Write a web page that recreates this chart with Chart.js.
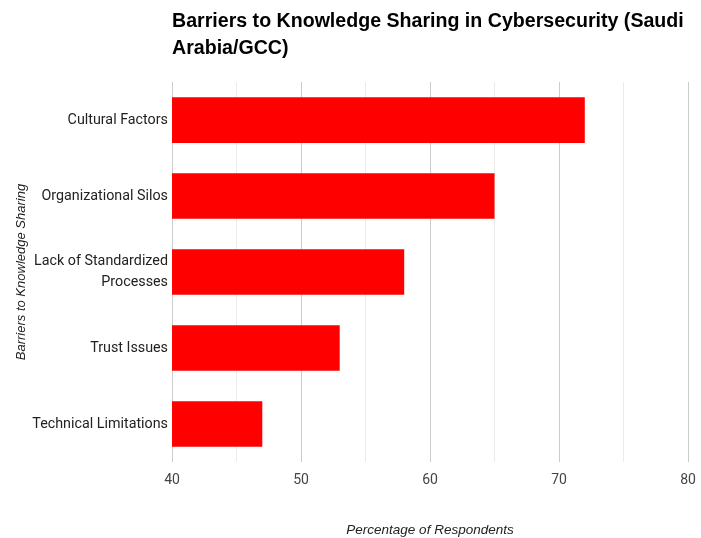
<!DOCTYPE html>
<html>
<head>
<meta charset="utf-8">
<script src="https://cdn.jsdelivr.net/npm/chart.js@4"></script>
<style>
  html, body { margin: 0; padding: 0; background: #fff; }
  #wrap { width: 701px; height: 538px; }
</style>
</head>
<body>
<div id="wrap"><canvas id="barriers"></canvas></div>
<script>
// barrier categories and share of respondents (%)
const barriers = [
  "Cultural Factors",
  "Organizational Silos",
  ["Lack of Standardized", "Processes"],
  "Trust Issues",
  "Technical Limitations"
];
const respondents = [72, 65, 58, 53, 47];
const tickLabels = [40, 50, 60, 70, 80];

Chart.defaults.font.family = "Roboto, 'Liberation Sans', Arial, sans-serif";
const arial = "'Liberation Sans', Arial, sans-serif";

const ctx = document.getElementById("barriers");

new Chart(ctx, {
  type: "bar",
  data: {
    labels: barriers,
    datasets: [{
      label: "Percentage of Respondents",
      data: respondents,
      backgroundColor: "#ff0000",
      borderWidth: 0,
      categoryPercentage: 1,
      barPercentage: 0.6
    }]
  },
  options: {
    indexAxis: "y",
    responsive: true,
    maintainAspectRatio: false,
    animation: false,
    layout: {
      padding: { left: 6, right: 13, top: 0, bottom: 0 }
    },
    plugins: {
      legend: { display: false },
      tooltip: { enabled: false },
      title: {
        display: true,
        text: ["Barriers to Knowledge Sharing in Cybersecurity (Saudi", "Arabia/GCC)"],
        align: "start",
        fullSize: false,
        color: "#000",
        font: { family: arial, size: 19.6, weight: "bold", lineHeight: 1.38 },
        padding: { top: 8, bottom: 20 }
      }
    },
    scales: {
      x: {
        min: 40,
        max: 80,
        ticks: {
          stepSize: 5,
          color: "#444",
          font: { size: 14 },
          padding: 10,
          callback: function(value) {
            return tickLabels.includes(value) ? value : "";
          }
        },
        grid: {
          drawTicks: false,
          color: function(c) {
            return c.tick && c.tick.value % 10 === 0 ? "#cccccc" : "#ebebeb";
          },
          lineWidth: 1
        },
        border: { display: false },
        title: {
          display: true,
          text: "Percentage of Respondents",
          color: "#222",
          font: { family: arial, size: 13.5, style: "italic" },
          padding: { top: 23, bottom: 0 }
        },
        afterFit: function(scale) {
          // let the layout padding decide the right edge
          scale.paddingRight = 0;
        }
      },
      y: {
        ticks: {
          color: "#222",
          font: { size: 14.3, lineHeight: 1.45 },
          padding: 4
        },
        grid: { display: false, drawTicks: false },
        border: { display: false },
        title: {
          display: true,
          text: "Barriers to Knowledge Sharing",
          color: "#222",
          font: { family: arial, size: 13, style: "italic" },
          padding: { top: 8, bottom: 0 }
        },
        afterFit: function(scale) {
          scale.width = 166;
        }
      }
    }
  }
});
</script>
</body>
</html>
